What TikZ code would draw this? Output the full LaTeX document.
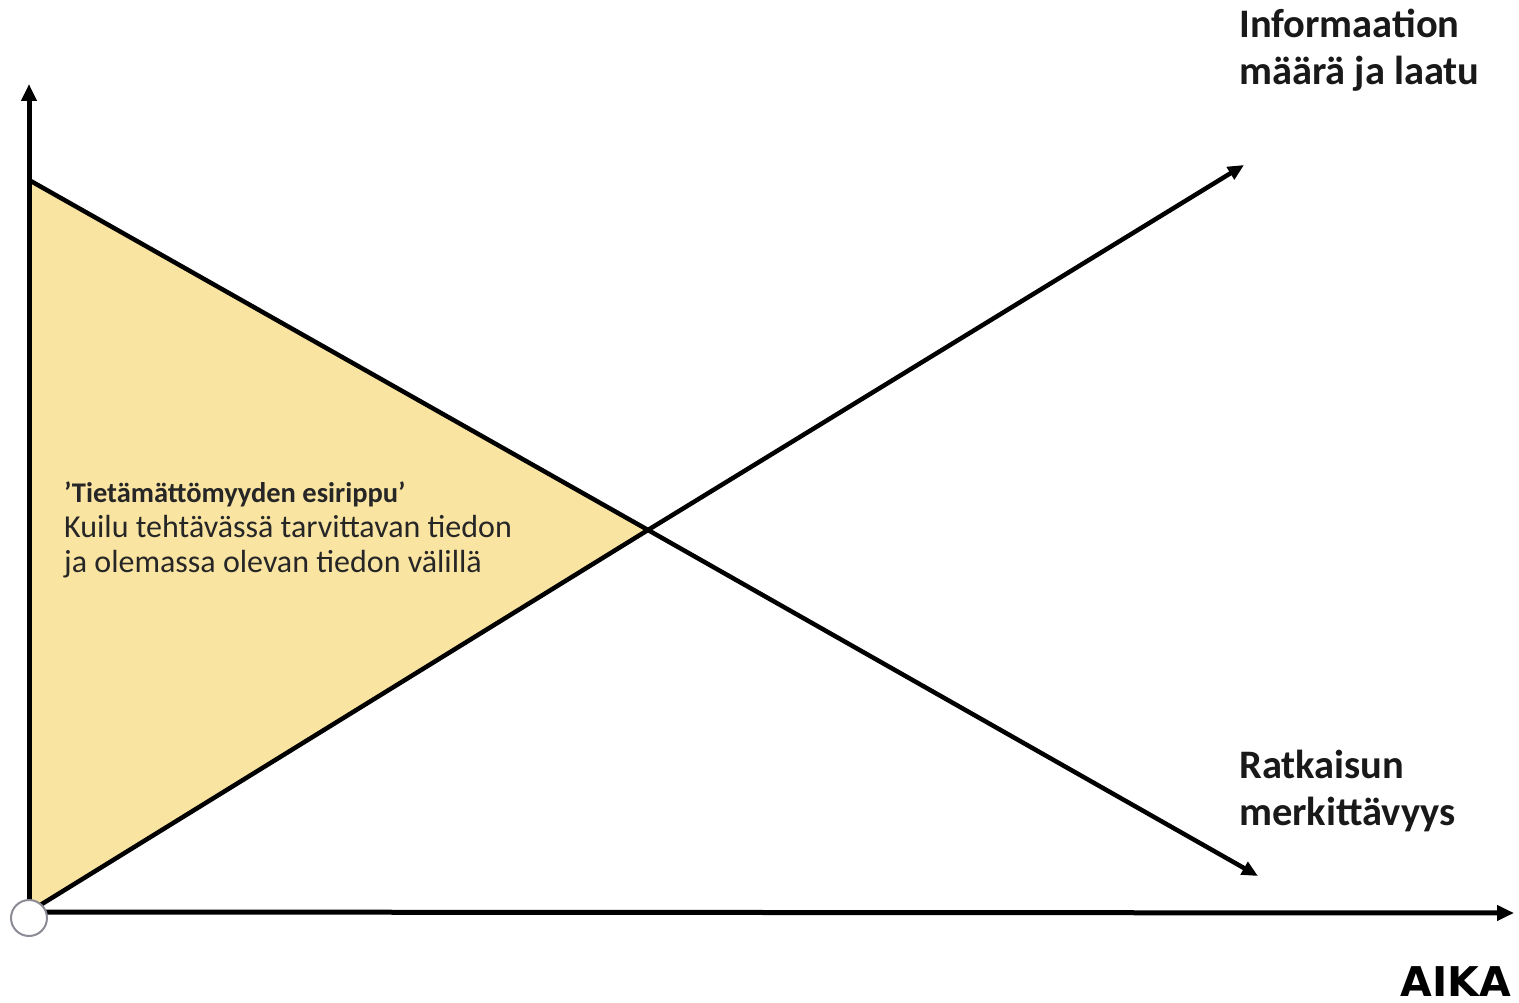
\documentclass[tikz,border=0pt]{standalone}
\usepackage{fontspec}
\setmainfont{Carlito}
\newfontfamily\heavyfont{DejaVu Sans}
\usetikzlibrary{arrows.meta}
\definecolor{gapfill}{RGB}{250,228,162}
\definecolor{ringgray}{RGB}{140,140,150}
\begin{document}
\begin{tikzpicture}[x=1pt,y=-1pt,
  axisline/.style={line width=5pt,-{Triangle[length=17pt,width=15pt]}},
  trendline/.style={line width=4.5pt,-{Triangle[length=16pt,width=14pt]}},
  biglabel/.style={font=\fontsize{40.5}{47}\selectfont\bfseries,anchor=base west,align=left,inner sep=0pt,text=black!90},
  gaptext/.style={anchor=base west,align=left,inner sep=0pt,text=black!85}]
\useasboundingbox (0,0) rectangle (1519,1003);
\coordinate (O) at (29,912);
\coordinate (Ytop) at (29,180);
\coordinate (X) at (648,530);
\coordinate (Yend) at (29,84);
\coordinate (Xend) at (1514,913);
\coordinate (Upend) at (1244,165);
\coordinate (Downend) at (1258,876);
\fill[gapfill] (Ytop) -- (X) -- (O) -- cycle;
\draw[trendline] (Ytop) -- (X) -- (Downend);
\draw[trendline] (O) -- (X) -- (Upend);
\draw[axisline] (O) -- (Yend);
\draw[axisline] (O) -- (Xend);
\node[circle,draw=ringgray,fill=white,line width=2pt,minimum size=36pt,inner sep=0pt] (origin) at (29,918) {};
\node[gaptext,font=\fontsize{28.5}{35}\selectfont\bfseries] (gaptitle) at (64,502) {’Tietämättömyyden esirippu’};
\node[gaptext,font=\fontsize{32}{35}\selectfont] (gapbody) at (64,572) {Kuilu tehtävässä tarvittavan tiedon\\ja olemassa olevan tiedon välillä};
\node[biglabel] (info) at (1239,85) {Informaation\\määrä ja laatu};
\node[biglabel] (ratk) at (1239,825) {Ratkaisun\\merkittävyys};
\node[font=\heavyfont\fontsize{41}{45}\selectfont\bfseries,anchor=base east,inner sep=0pt,text=black] (aika) at (1511,996) {AIKA};
\end{tikzpicture}
\end{document}
